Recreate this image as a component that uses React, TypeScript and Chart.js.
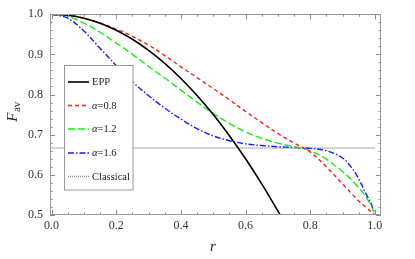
import React, { useEffect, useRef } from "react";
import { Chart, registerables } from "chart.js";
Chart.register(...registerables);

const rGrid = [0, 0.05, 0.1, 0.15, 0.2, 0.25, 0.3, 0.35, 0.4, 0.45, 0.5, 0.55, 0.6, 0.65, 0.7, 0.75, 0.8, 0.85, 0.9, 0.93, 0.95, 0.97, 0.99, 1.0];
const eppR = [0, 0.05, 0.1, 0.15, 0.2, 0.25, 0.3, 0.35, 0.4, 0.45, 0.5, 0.55, 0.6, 0.65, 0.7, 0.72];
const eppValues = [1, 0.9975, 0.99, 0.9775, 0.96, 0.9375, 0.91, 0.8775, 0.84, 0.7975, 0.75, 0.6975, 0.64, 0.5775, 0.51, 0.4816];
const alpha08Values = [1.0, 0.998, 0.99, 0.978, 0.963, 0.945, 0.923, 0.897, 0.869, 0.842, 0.815, 0.787, 0.758, 0.73, 0.703, 0.679, 0.657, 0.62, 0.577, 0.552, 0.535, 0.521, 0.507, 0.5];
const alpha12Values = [1.0, 0.995, 0.978, 0.955, 0.928, 0.9, 0.87, 0.841, 0.811, 0.781, 0.753, 0.728, 0.707, 0.691, 0.679, 0.67, 0.66, 0.639, 0.608, 0.586, 0.568, 0.548, 0.52, 0.5];
const alpha16Values = [1.0, 0.99, 0.958, 0.915, 0.872, 0.832, 0.797, 0.766, 0.739, 0.715, 0.697, 0.685, 0.677, 0.673, 0.67, 0.668, 0.666, 0.66, 0.642, 0.616, 0.59, 0.557, 0.525, 0.5];
const classicalR = [0, 1];
const classicalValues = [0.6667, 0.6667];
const xTicks = [0, 0.2, 0.4, 0.6, 0.8, 1.0];
const yTicks = [0.5, 0.6, 0.7, 0.8, 0.9, 1.0];
const seriesLabels = ["EPP", "α=0.8", "α=1.2", "α=1.6", "Classical"];

const SERIF = "'Liberation Serif', 'DejaVu Serif', serif";

const pts = (xs: number[], ys: number[]) => xs.map((x, i) => ({ x, y: ys[i] }));

const framePlugin = {
  id: "frameTicks",
  afterDatasetsDraw(chart: any) {
    const { ctx, chartArea: a, scales } = chart;
    const xs = scales.x, ys = scales.y;
    ctx.save();
    ctx.strokeStyle = "#8a8a8a";
    ctx.lineWidth = 1;
    ctx.beginPath();
    for (let i = 0; i <= 20; i++) {
      const v = i * 0.05;
      const major = i % 4 === 0;
      const len = major ? 5 : 2.5;
      const px = Math.round(xs.getPixelForValue(v)) + 0.5;
      ctx.moveTo(px, a.bottom); ctx.lineTo(px, a.bottom - len);
      ctx.moveTo(px, a.top); ctx.lineTo(px, a.top + len);
    }
    for (let i = 0; i <= 25; i++) {
      const v = 0.5 + i * 0.02;
      const major = i % 5 === 0;
      const len = major ? 5 : 2.5;
      const py = Math.round(ys.getPixelForValue(v)) + 0.5;
      ctx.moveTo(a.left, py); ctx.lineTo(a.left + len, py);
      ctx.moveTo(a.right, py); ctx.lineTo(a.right - len, py);
    }
    ctx.stroke();
    ctx.strokeStyle = "#9a9a9a";
    ctx.strokeRect(Math.round(a.left) + 0.5, Math.round(a.top) + 0.5, Math.round(a.right - a.left) - 1, Math.round(a.bottom - a.top) - 1);

    // legend
    const lx = 64.5, ly = 65.5, lw = 68.5, lh = 124.5;
    ctx.fillStyle = "#ffffff";
    ctx.fillRect(lx, ly, lw, lh);
    ctx.strokeStyle = "#9a9a9a";
    ctx.lineWidth = 1;
    ctx.strokeRect(lx, ly, lw, lh);
    const rowY = [82, 105.5, 129, 153, 176.5];
    chart.data.datasets.forEach((ds: any, i: number) => {
      const y = rowY[i];
      ctx.save();
      ctx.strokeStyle = ds.borderColor;
      ctx.lineWidth = ds.borderWidth;
      ctx.setLineDash(ds.borderDash || []);
      ctx.beginPath();
      ctx.moveTo(68, y); ctx.lineTo(89, y);
      ctx.stroke();
      ctx.restore();
      ctx.fillStyle = "#222";
      ctx.textBaseline = "middle";
      ctx.textAlign = "left";
      const label: string = ds.label;
      let x = 92;
      if (label.startsWith("α")) {
        ctx.font = `italic 10.5px ${SERIF}`;
        ctx.fillText("α", x, y + 0.5);
        x += ctx.measureText("α").width;
        ctx.font = `10.5px ${SERIF}`;
        ctx.fillText(label.slice(1), x, y + 0.5);
      } else {
        ctx.font = `10.5px ${SERIF}`;
        ctx.fillText(label, x, y + 0.5);
      }
    });

    // axis titles
    ctx.fillStyle = "#222";
    ctx.font = `italic 15px ${SERIF}`;
    ctx.textAlign = "center";
    ctx.textBaseline = "alphabetic";
    ctx.fillText("r", 213, 251);

    ctx.save();
    ctx.translate(17, 112);
    ctx.rotate(-Math.PI / 2);
    ctx.font = `italic 15px ${SERIF}`;
    const fw = ctx.measureText("F").width;
    ctx.font = `11px ${SERIF}`;
    const sw = ctx.measureText("av").width;
    const start = -(fw + sw) / 2;
    ctx.textAlign = "left";
    ctx.font = `italic 15px ${SERIF}`;
    ctx.fillText("F", start, 0);
    ctx.font = `11px ${SERIF}`;
    ctx.fillText("av", start + fw + 0.5, 2.5);
    ctx.restore();

    ctx.restore();
  },
};

export default function App() {
  const ref = useRef<HTMLCanvasElement | null>(null);
  useEffect(() => {
    document.body.style.margin = "0";
    const canvas = ref.current;
    if (!canvas) return;
    const common = { pointRadius: 0, tension: 0.35, fill: false };
    const chart = new Chart(canvas, {
      type: "line",
      data: {
        datasets: [
          { label: seriesLabels[0], data: pts(eppR, eppValues), borderColor: "#000000", borderWidth: 1.6, borderDash: [], ...common },
          { label: seriesLabels[1], data: pts(rGrid, alpha08Values), borderColor: "#ff1a1a", borderWidth: 1.4, borderDash: [4, 3], ...common },
          { label: seriesLabels[2], data: pts(rGrid, alpha12Values), borderColor: "#1ee61e", borderWidth: 1.4, borderDash: [7, 3], ...common },
          { label: seriesLabels[3], data: pts(rGrid, alpha16Values), borderColor: "#1a1aff", borderWidth: 1.4, borderDash: [6, 2, 1.5, 2], ...common },
          { label: seriesLabels[4], data: pts(classicalR, classicalValues), borderColor: "#8c8c8c", borderWidth: 1.5, borderDash: [1, 1], pointRadius: 0, fill: false },
        ] as any,
      },
      options: {
        animation: false,
        responsive: false,
        devicePixelRatio: 1,
        layout: { padding: { left: 0, right: 34, top: 7, bottom: 0 } },
        plugins: { legend: { display: false }, tooltip: { enabled: false } },
        scales: {
          x: {
            type: "linear",
            min: -0.005,
            max: 1.019,
            afterBuildTicks: (s: any) => { s.ticks = xTicks.map((v) => ({ value: v })); },
            afterFit: (s: any) => { s.height = 44; },
            grid: { display: false, drawTicks: false },
            border: { display: false },
            ticks: { padding: 4, color: "#333", font: { family: SERIF, size: 12 }, callback: (v: any) => Number(v).toFixed(1), maxRotation: 0, autoSkip: false },
          },
          y: {
            type: "linear",
            min: 0.5,
            max: 1.0,
            afterBuildTicks: (s: any) => { s.ticks = yTicks.map((v) => ({ value: v })); },
            afterFit: (s: any) => { s.width = 50; },
            grid: { display: false, drawTicks: false },
            border: { display: false },
            ticks: { padding: 7, color: "#333", font: { family: SERIF, size: 12 }, callback: (v: any) => Number(v).toFixed(1), autoSkip: false },
          },
        },
      },
      plugins: [framePlugin],
    } as any);
    return () => chart.destroy();
  }, []);
  return (
    <div style={{ width: 415, height: 259 }}>
      <canvas ref={ref} width={415} height={259} style={{ display: "block" }} />
    </div>
  );
}
